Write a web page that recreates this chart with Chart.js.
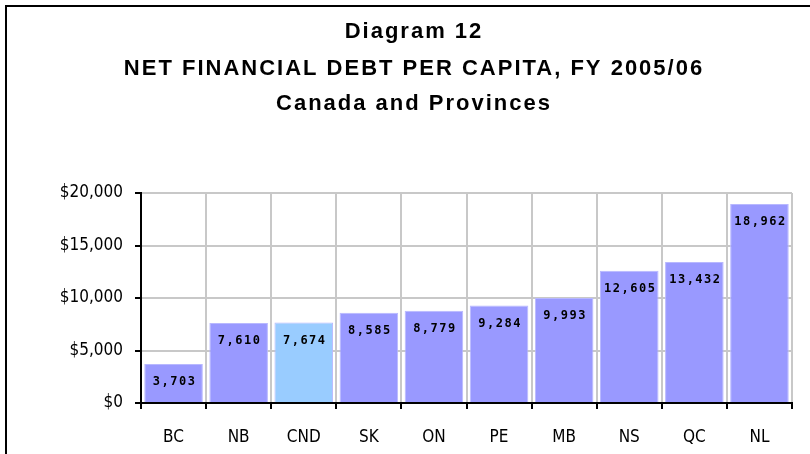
<!DOCTYPE html>
<html>
<head>
<meta charset="utf-8">
<script src="https://cdn.jsdelivr.net/npm/chart.js@4"></script>
<style>
  html, body { margin: 0; padding: 0; background: #ffffff; }
  #wrap { width: 810px; height: 454px; position: relative; }
</style>
</head>
<body>
<div id="wrap"><canvas id="debtChart" width="810" height="454"></canvas></div>
<script>
// ---- data ----
const provinces  = ['BC', 'NB', 'CND', 'SK', 'ON', 'PE', 'MB', 'NS', 'QC', 'NL'];
const debtValues = [3703, 7610, 7674, 8585, 8779, 9284, 9993, 12605, 13432, 18962];
const yTicks     = [0, 5000, 10000, 15000, 20000];
const titleLines = ['Diagram 12', 'NET FINANCIAL DEBT PER CAPITA, FY 2005/06', 'Canada and Provinces'];

const barColors = provinces.map(p => p === 'CND' ? '#99ccff' : '#9999ff');
const axisFont  = '"DejaVu Sans Condensed", "Liberation Sans", Arial, sans-serif';

// ---- outer frame + title ----
const framePlugin = {
    id: 'frame',
    beforeDraw(chart) {
        const ctx = chart.ctx;
        ctx.save();
        ctx.strokeStyle = '#000000';
        ctx.lineWidth = 2;
        ctx.strokeRect(6, 6, chart.width + 20, chart.height + 20);
        ctx.fillStyle = '#000000';
        ctx.textAlign = 'center';
        ctx.textBaseline = 'middle';
        ctx.font = 'bold 22px "Liberation Sans", Arial, sans-serif';
        ctx.letterSpacing = '2px';
        const ys = [32, 69, 104];
        titleLines.forEach((t, i) => ctx.fillText(t, 414, ys[i]));
        ctx.restore();
    }
};

// ---- labels inside the bars ----
const valueLabels = {
    id: 'valueLabels',
    afterDatasetsDraw(chart) {
        const ctx = chart.ctx;
        const meta = chart.getDatasetMeta(0);
        ctx.save();
        ctx.fillStyle = '#000000';
        ctx.textAlign = 'center';
        ctx.textBaseline = 'middle';
        ctx.font = 'bold 12px "DejaVu Sans Mono", monospace';
        ctx.letterSpacing = '1.5px';
        meta.data.forEach((bar, i) => {
            ctx.fillText(debtValues[i].toLocaleString('en-US'), bar.x + 1, bar.y + 18);
        });
        ctx.restore();
    }
};

new Chart(document.getElementById('debtChart').getContext('2d'), {
    type: 'bar',
    data: {
        labels: provinces,
        datasets: [{
            data: debtValues,
            backgroundColor: barColors,
            borderColor: '#b8b8ff',
            borderWidth: 1,
            barPercentage: 0.9,
            categoryPercentage: 1.0,
        }]
    },
    options: {
        responsive: false,
        animation: false,
        events: [],
        layout: { padding: { left: 6, right: 18, top: 193, bottom: 0 } },
        plugins: {
            legend: { display: false },
            tooltip: { enabled: false },
            title: { display: false },
        },
        scales: {
            y: {
                min: 0,
                max: 20000,
                afterFit(scale) { scale.width = 135; },
                afterBuildTicks(scale) { scale.ticks = yTicks.map(v => ({ value: v })); },
                ticks: {
                    color: '#000000',
                    padding: 12,
                    font: { size: 17, family: axisFont },
                    callback: v => '$' + Number(v).toLocaleString('en-US'),
                },
                grid: {
                    color: '#c8c8c8',
                    lineWidth: 2,
                    tickColor: '#000000',
                    tickLength: 6,
                },
                border: { color: '#000000', width: 2 },
            },
            x: {
                afterFit(scale) { scale.height = 51; },
                ticks: {
                    color: '#000000',
                    padding: 18,
                    font: { size: 17, family: axisFont },
                },
                grid: {
                    offset: true,
                    color: '#c8c8c8',
                    lineWidth: 2,
                    tickColor: '#000000',
                    tickLength: 6,
                },
                border: { color: '#000000', width: 2 },
            }
        }
    },
    plugins: [framePlugin, valueLabels]
});
</script>
</body>
</html>
